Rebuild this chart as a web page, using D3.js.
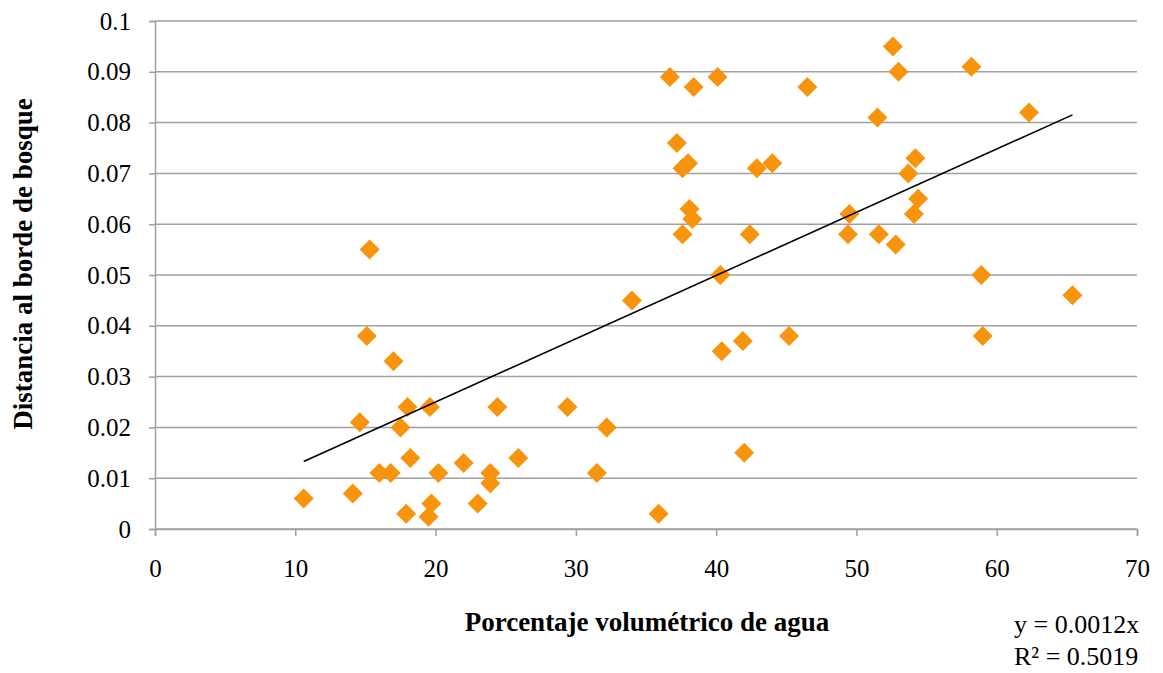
<!DOCTYPE html>
<html>
<head>
<meta charset="utf-8">
<script src="https://cdn.jsdelivr.net/npm/d3@7"></script>
<style>
	body { margin: 0; background: #fff; }
	svg { display: block; }
</style>
</head>
<body>
<svg id="chart" width="1163" height="673"></svg>
<script>
// Agua vs distancia al borde de bosque

var waterPct = [10.6, 14.1, 14.6, 15.1, 15.3, 16.0, 16.8, 17.0, 17.5, 18.0,
	17.9, 18.2, 19.5, 19.6, 19.7, 20.2, 22.0, 23.0, 23.9, 23.9,
	24.4, 25.9, 29.4, 31.5, 32.2, 34.0, 35.9, 36.7, 37.2, 37.6,
	38.0, 38.1, 38.3, 37.6, 38.4, 40.1, 40.3, 40.4, 41.9, 42.0,
	42.4, 42.9, 44.0, 45.2, 46.5, 49.4, 49.5, 51.5, 51.6, 52.6,
	52.8, 53.0, 53.7, 54.1, 54.2, 54.4, 58.2, 58.9, 59.0, 62.3, 65.4];
var edgeDist = [0.006, 0.007, 0.021, 0.038, 0.055, 0.011, 0.011, 0.033, 0.020, 0.024,
	0.003, 0.014, 0.0024, 0.024, 0.005, 0.011, 0.013, 0.005, 0.011, 0.009,
	0.024, 0.014, 0.024, 0.011, 0.020, 0.045, 0.003, 0.089, 0.076, 0.071,
	0.072, 0.063, 0.061, 0.058, 0.087, 0.089, 0.050, 0.035, 0.037, 0.015,
	0.058, 0.071, 0.072, 0.038, 0.087, 0.058, 0.062, 0.081, 0.058, 0.095,
	0.056, 0.090, 0.070, 0.062, 0.073, 0.065, 0.091, 0.050, 0.038, 0.082, 0.046];

var xTicks = [0, 10, 20, 30, 40, 50, 60, 70];
var yTicks = [0, 0.01, 0.02, 0.03, 0.04, 0.05, 0.06, 0.07, 0.08, 0.09, 0.1];
var yTickLabels = ["0", "0.01", "0.02", "0.03", "0.04", "0.05", "0.06", "0.07", "0.08", "0.09", "0.1"];

// trend line (slope, intercept)
var trendCoef = [0.001245, 0.0001];
var eqLines = ["y = 0.0012x", "R² = 0.5019"];

var svg = d3.select('#chart');
var plotLeft = 155, plotRight = 1137, plotTop = 21, plotBottom = 529;
var axisColor = "#a0a0a0";
var markColor = "#f7940c";
var font = "'Liberation Serif', 'Times New Roman', serif";

var x = d3.scaleLinear().domain([0, 70]).range([plotLeft, plotRight]);
var y = d3.scaleLinear().domain([0, 0.1]).range([plotBottom, plotTop]);

// horizontal gridlines
svg.append("g")
	.selectAll("line")
	.data(yTicks)
	.enter()
	.append("line")
	.attr("x1", plotLeft)
	.attr("x2", plotRight)
	.attr("y1", function(d) { return y(d); })
	.attr("y2", function(d) { return y(d); })
	.attr("stroke", axisColor)
	.attr("stroke-width", 1.5);

// y axis
var yAxis = svg.append("g")
	.attr("transform", "translate(" + plotLeft + ",0)")
	.call(d3.axisLeft(y).tickValues(yTicks).tickSize(6).tickPadding(18)
		.tickFormat(function(d, i) { return yTickLabels[i]; }));
yAxis.select(".domain").attr("stroke", axisColor).attr("stroke-width", 1.5);
yAxis.selectAll(".tick line").attr("stroke", axisColor).attr("stroke-width", 1.5);
yAxis.selectAll("text")
	.style("font-family", font)
	.style("font-size", "25px")
	.attr("fill", "#000");

// x axis
var xAxis = svg.append("g")
	.attr("transform", "translate(0," + plotBottom + ")")
	.call(d3.axisBottom(x).tickValues(xTicks).tickSize(7).tickPadding(23)
		.tickFormat(d3.format("d")));
xAxis.select(".domain").attr("stroke", axisColor).attr("stroke-width", 1.5);
xAxis.selectAll(".tick line").attr("stroke", axisColor).attr("stroke-width", 1.5);
xAxis.selectAll("text")
	.style("font-family", font)
	.style("font-size", "25px")
	.attr("fill", "#000");

// points
var points = waterPct.map(function(v, i) { return [v, edgeDist[i]]; });
var diamond = d3.symbol().type(d3.symbolSquare).size(200);
svg.append("g")
	.selectAll("path")
	.data(points)
	.enter()
	.append("path")
	.attr("d", diamond)
	.attr("transform", function(d) {
		return "translate(" + x(d[0]) + "," + y(d[1]) + ") rotate(45)";
	})
	.attr("fill", markColor);

// trend line
var xExtent = d3.extent(waterPct);
var line = d3.line()
	.x(function(d) { return x(d); })
	.y(function(d) { return y(trendCoef[0] * d + trendCoef[1]); });
svg.append("path")
	.datum(xExtent)
	.attr("d", line)
	.attr("fill", "none")
	.attr("stroke", "#000")
	.attr("stroke-width", 1.6);

// titles
svg.append("text")
	.attr("transform", "translate(32, 264) rotate(-90)")
	.attr("text-anchor", "middle")
	.style("font-family", font)
	.style("font-size", "27px")
	.style("font-weight", "bold")
	.text("Distancia al borde de bosque");

svg.append("text")
	.attr("x", 647)
	.attr("y", 631)
	.attr("text-anchor", "middle")
	.style("font-family", font)
	.style("font-size", "27px")
	.style("font-weight", "bold")
	.text("Porcentaje volumétrico de agua");

svg.selectAll(".eq")
	.data(eqLines)
	.enter()
	.append("text")
	.attr("class", "eq")
	.attr("x", 1014)
	.attr("y", function(d, i) { return 633 + 32 * i; })
	.style("font-family", font)
	.style("font-size", "26px")
	.text(function(d) { return d; });
</script>
</body>
</html>
